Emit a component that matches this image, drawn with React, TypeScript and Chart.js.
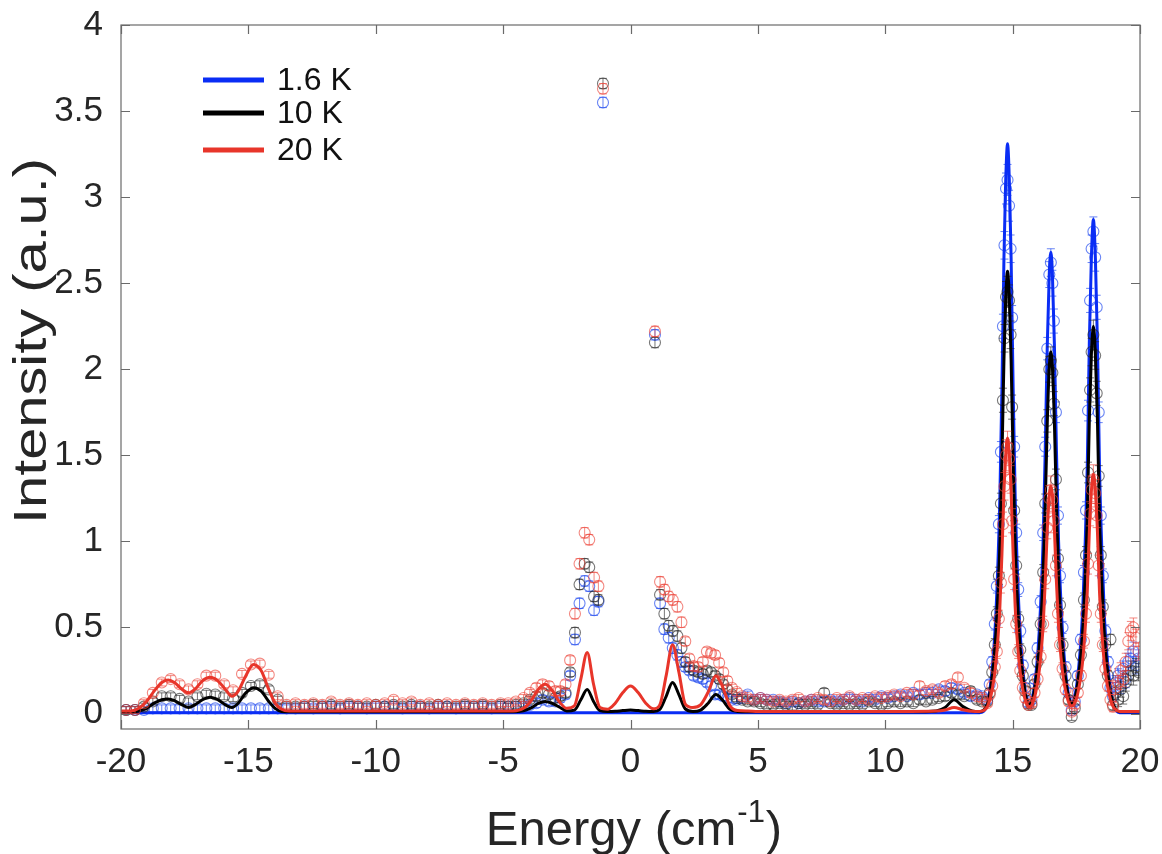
import { useEffect, useRef } from 'react';
import { Chart, registerables } from 'chart.js';
Chart.register(...registerables);

const FONT = '"Liberation Sans", Arial, Helvetica, sans-serif';
const xTicks = [-20, -15, -10, -5, 0, 5, 10, 15, 20];
const yTicks = [0, 0.5, 1, 1.5, 2, 2.5, 3, 3.5, 4];
const seriesLabels = ['1.6 K', '10 K', '20 K'];
const xTitle = 'Energy (cm';
const xTitleSup = '-1';
const yTitle = 'Intensity (a.u.)';

// measured points (shared energy grid)
const energy = [
  -19.8, -19.45, -19.1, -18.75, -18.4, -18.05, -17.7, -17.35, -17.0, -16.65, -16.3, -15.95, -15.6, -15.25, -14.9, -14.55, -14.2, -13.85, -13.5,
  -13.15, -12.8, -12.45, -12.1, -11.75, -11.4, -11.05, -10.7, -10.35, -10.0, -9.65, -9.3, -8.95, -8.6, -8.25, -7.9, -7.55, -7.2, -6.85, -6.5, -6.15, -5.8, -5.45, -5.1,
  -4.8, -4.5, -4.2, -3.95, -3.7, -3.45, -3.2, -2.95, -2.75, -2.55, -2.37, -2.18, -2.0, -1.8, -1.62, -1.43, -1.26, -1.08,
  0.96, 1.16, 1.33, 1.5, 1.66, 1.84, 2.0, 2.15, 2.31, 2.48, 2.66, 2.84, 3.0, 3.16, 3.32, 3.48, 3.64, 3.8, 3.98, 4.17, 4.38, 4.6, 4.85,
  5.1, 5.35, 5.6, 5.85, 6.1, 6.35, 6.6, 6.85, 7.1, 7.35, 7.6, 7.85, 8.1, 8.35, 8.6, 8.85, 9.1, 9.35, 9.6, 9.85, 10.1, 10.35, 10.6, 10.85, 11.1, 11.35, 11.6, 11.85, 12.1, 12.35, 12.6, 12.85, 13.1, 13.35, 13.6, 13.8,
  14.0, 14.1, 14.2, 14.3, 14.38, 14.46, 14.54, 14.62, 14.68, 14.74, 14.8, 14.86, 14.92, 14.98, 15.06, 15.14, 15.22, 15.3, 15.4, 15.5,
  15.62, 15.74, 15.86, 15.98, 16.1, 16.2, 16.28, 16.36, 16.44, 16.5, 16.56, 16.62, 16.7, 16.78, 16.86, 16.96, 17.08, 17.2, 17.32, 17.44,
  17.56, 17.68, 17.8, 17.88, 17.96, 18.04, 18.1, 18.17, 18.24, 18.3, 18.38, 18.46, 18.54, 18.64, 18.74, 18.84, 18.94, 19.04, 19.14, 19.24,
  19.34, 19.44, 19.54, 19.64, 19.74, 19.84, 19.94,
];

const i16 = [
  0.02, 0.02, 0.02, 0.03, 0.03, 0.03, 0.03, 0.03, 0.03, 0.03, 0.03, 0.03, 0.03, 0.03, 0.03, 0.03, 0.03, 0.03, 0.03,
  0.03, 0.04, 0.03, 0.04, 0.04, 0.03, 0.04, 0.04, 0.03, 0.04, 0.04, 0.04, 0.03, 0.04, 0.04, 0.03, 0.04, 0.04, 0.03, 0.04, 0.04, 0.04, 0.03, 0.04,
  0.04, 0.04, 0.04, 0.05, 0.06, 0.08, 0.07, 0.07, 0.09, 0.11, 0.22, 0.43, 0.64, 0.77, 0.74, 0.60, 0.65, 3.55,
  2.20, 0.64, 0.49, 0.44, 0.38, 0.34, 0.30, 0.27, 0.25, 0.22, 0.21, 0.20, 0.18, 0.16, 0.11, 0.11, 0.10, 0.09, 0.08, 0.08, 0.09, 0.11, 0.08,
  0.09, 0.08, 0.08, 0.07, 0.06, 0.07, 0.06, 0.07, 0.08, 0.07, 0.07, 0.08, 0.07, 0.08, 0.09, 0.08, 0.07, 0.09, 0.08, 0.10, 0.09, 0.10, 0.11, 0.10, 0.12, 0.11, 0.12, 0.12, 0.14, 0.13, 0.15, 0.14, 0.12, 0.10, 0.11, 0.10,
  0.08, 0.17, 0.30, 0.52, 0.74, 1.10, 1.52, 2.25, 2.72, 3.05, 3.10, 2.95, 2.70, 2.30, 1.55, 1.05, 0.72, 0.48, 0.28, 0.15,
  0.06, 0.08, 0.20, 0.38, 0.65, 1.05, 1.55, 2.12, 2.55, 2.62, 2.50, 2.28, 1.75, 1.15, 0.80, 0.50, 0.27, 0.12, 0.02, 0.07,
  0.22, 0.43, 0.82, 1.18, 1.76, 2.40, 2.70, 2.80, 2.65, 2.36, 1.75, 1.15, 0.80, 0.48, 0.30, 0.15, 0.10, 0.18, 0.22, 0.16,
  0.26, 0.20, 0.30, 0.32, 0.36, 0.28, 0.32,
];

const i10 = [
  0.02, 0.02, 0.04, 0.07, 0.10, 0.10, 0.085, 0.07, 0.10, 0.115, 0.11, 0.10, 0.09, 0.12, 0.16, 0.17, 0.14, 0.08, 0.04,
  0.04, 0.04, 0.05, 0.04, 0.05, 0.04, 0.05, 0.04, 0.04, 0.05, 0.04, 0.05, 0.04, 0.05, 0.04, 0.04, 0.05, 0.04, 0.04, 0.05, 0.04, 0.05, 0.04, 0.05,
  0.04, 0.05, 0.06, 0.08, 0.10, 0.12, 0.11, 0.09, 0.10, 0.12, 0.24, 0.47, 0.75, 0.87, 0.85, 0.68, 0.66, 3.66,
  2.155, 0.69, 0.58, 0.51, 0.48, 0.45, 0.38, 0.30, 0.27, 0.25, 0.24, 0.23, 0.25, 0.24, 0.22, 0.20, 0.17, 0.14, 0.11, 0.09, 0.08, 0.07, 0.07,
  0.06, 0.05, 0.05, 0.06, 0.05, 0.04, 0.06, 0.05, 0.06, 0.05, 0.12, 0.06, 0.05, 0.06, 0.05, 0.06, 0.05, 0.07, 0.06, 0.05, 0.06, 0.07, 0.06, 0.07, 0.06, 0.08, 0.07, 0.08, 0.09, 0.10, 0.12, 0.11, 0.10, 0.13, 0.08, 0.07,
  0.07, 0.12, 0.24, 0.40, 0.58, 0.80, 1.22, 1.82, 2.18, 2.42, 2.45, 2.40, 2.20, 1.78, 1.18, 0.86, 0.55, 0.37, 0.22, 0.13,
  0.05, 0.05, 0.17, 0.30, 0.52, 0.82, 1.22, 1.70, 2.00, 2.05, 1.98, 1.80, 1.36, 0.90, 0.63, 0.40, 0.22, 0.08, -0.02, 0.03,
  0.17, 0.34, 0.66, 0.92, 1.40, 1.88, 2.10, 2.20, 2.08, 1.86, 1.38, 0.92, 0.62, 0.40, 0.22, 0.43, 0.05, 0.12, 0.08, 0.14,
  0.10, 0.18, 0.22, 0.25, 0.22, 0.27, 0.24,
];

const i20 = [
  0.02, 0.02, 0.06, 0.12, 0.18, 0.20, 0.17, 0.14, 0.17, 0.22, 0.22, 0.17, 0.135, 0.23, 0.285, 0.29, 0.225, 0.10, 0.05,
  0.06, 0.05, 0.06, 0.05, 0.07, 0.05, 0.06, 0.05, 0.06, 0.05, 0.06, 0.08, 0.06, 0.07, 0.05, 0.06, 0.05, 0.06, 0.05, 0.06, 0.05, 0.06, 0.05, 0.06,
  0.06, 0.07, 0.09, 0.12, 0.15, 0.17, 0.16, 0.13, 0.13, 0.17, 0.31, 0.58, 0.87, 1.05, 1.01, 0.79, 0.74, 3.63,
  2.22, 0.765, 0.72, 0.68, 0.66, 0.62, 0.53, 0.42, 0.32, 0.275, 0.27, 0.30, 0.36, 0.35, 0.34, 0.295, 0.24, 0.19, 0.15, 0.125, 0.10, 0.09, 0.08,
  0.09, 0.08, 0.07, 0.08, 0.07, 0.08, 0.09, 0.07, 0.08, 0.09, 0.08, 0.07, 0.09, 0.08, 0.10, 0.08, 0.09, 0.08, 0.10, 0.09, 0.10, 0.11, 0.10, 0.12, 0.11, 0.16, 0.13, 0.14, 0.12, 0.16, 0.17, 0.21, 0.15, 0.12, 0.10, 0.09,
  0.06, 0.11, 0.16, 0.27, 0.36, 0.55, 0.76, 1.10, 1.32, 1.50, 1.55, 1.48, 1.36, 1.12, 0.78, 0.52, 0.36, 0.25, 0.15, 0.09,
  0.05, 0.06, 0.12, 0.20, 0.33, 0.52, 0.78, 1.08, 1.25, 1.30, 1.24, 1.12, 0.86, 0.58, 0.40, 0.26, 0.14, 0.07, 0.01, 0.05,
  0.12, 0.22, 0.42, 0.58, 0.87, 1.16, 1.30, 1.36, 1.28, 1.15, 0.86, 0.58, 0.40, 0.26, 0.16, 0.08, 0.04, 0.15, 0.18, 0.25,
  0.20, 0.30, 0.42, 0.48, 0.50, 0.44, 0.36,
];

const errBar = [
  0.02, 0.02, 0.02, 0.02, 0.02, 0.02, 0.02, 0.02, 0.02, 0.02, 0.02, 0.02, 0.02, 0.02, 0.02, 0.02, 0.02, 0.02, 0.02,
  0.02, 0.02, 0.02, 0.02, 0.02, 0.02, 0.02, 0.02, 0.02, 0.02, 0.02, 0.02, 0.02, 0.02, 0.02, 0.02, 0.02, 0.02, 0.02, 0.02, 0.02, 0.02, 0.02, 0.02,
  0.02, 0.02, 0.02, 0.02, 0.025, 0.025, 0.025, 0.025, 0.025, 0.025, 0.025, 0.03, 0.03, 0.03, 0.03, 0.03, 0.03, 0.03,
  0.03, 0.03, 0.03, 0.03, 0.03, 0.03, 0.03, 0.025, 0.025, 0.025, 0.025, 0.025, 0.025, 0.025, 0.025, 0.025, 0.025, 0.025, 0.02, 0.02, 0.02, 0.02, 0.02,
  0.02, 0.02, 0.02, 0.02, 0.02, 0.02, 0.02, 0.02, 0.02, 0.02, 0.025, 0.02, 0.02, 0.02, 0.02, 0.02, 0.02, 0.02, 0.02, 0.02, 0.02, 0.02, 0.02, 0.02, 0.02, 0.025, 0.02, 0.02, 0.02, 0.025, 0.025, 0.025, 0.02, 0.025, 0.02, 0.02,
  0.02, 0.025, 0.03, 0.035, 0.04, 0.05, 0.06, 0.07, 0.08, 0.09, 0.09, 0.09, 0.08, 0.07, 0.06, 0.05, 0.04, 0.035, 0.03, 0.025,
  0.02, 0.02, 0.025, 0.03, 0.035, 0.045, 0.055, 0.065, 0.075, 0.08, 0.075, 0.07, 0.06, 0.05, 0.04, 0.035, 0.03, 0.025, 0.02, 0.02,
  0.025, 0.03, 0.04, 0.05, 0.06, 0.07, 0.08, 0.085, 0.08, 0.07, 0.06, 0.05, 0.04, 0.035, 0.03, 0.03, 0.03, 0.04, 0.04, 0.045,
  0.045, 0.05, 0.05, 0.055, 0.055, 0.05, 0.05,
];

// fitted curves (shared energy grid)
const fitEnergy = [
  -20, -19.6, -19.3, -19.0, -18.7, -18.4, -18.15, -17.9, -17.6, -17.35, -17.1, -16.8, -16.5, -16.2, -15.9, -15.65, -15.4, -15.1, -14.8, -14.5, -14.2, -13.95, -13.7, -13.4, -13.0, -8.0,
  -4.6, -4.2, -3.9, -3.6, -3.35, -3.1, -2.8, -2.5, -2.2, -1.95, -1.7, -1.45, -1.2, -0.9, -0.6, -0.3, 0, 0.3, 0.6, 0.9, 1.15, 1.4, 1.65, 1.9, 2.15, 2.45, 2.75, 3.05, 3.35, 3.6, 3.9, 4.2, 4.6,
  5.0, 8.0, 11.0, 12.0, 12.35, 12.7, 13.05, 13.4, 13.7,
  14.0, 14.1, 14.2, 14.3, 14.4, 14.5, 14.58, 14.66, 14.72, 14.8, 14.88, 14.94, 15.02, 15.1, 15.2, 15.3, 15.4, 15.5, 15.6, 15.7,
  15.8, 15.9, 16.0, 16.1, 16.2, 16.28, 16.36, 16.44, 16.5, 16.56, 16.64, 16.72, 16.8, 16.9, 17.0, 17.1, 17.2, 17.33, 17.45, 17.55,
  17.65, 17.75, 17.85, 17.93, 18.01, 18.09, 18.17, 18.25, 18.33, 18.41, 18.5, 18.6, 18.7, 18.8, 18.9, 19.0, 19.2, 19.5, 20.0,
];

const fit16 = [
  0.005, 0.005, 0.005, 0.005, 0.005, 0.005, 0.005, 0.005, 0.005, 0.005, 0.005, 0.005, 0.005, 0.005, 0.005, 0.005, 0.005, 0.005, 0.005, 0.005, 0.005, 0.005, 0.005, 0.005, 0.005, 0.005,
  0.005, 0.005, 0.005, 0.005, 0.005, 0.005, 0.005, 0.005, 0.005, 0.005, 0.005, 0.005, 0.005, 0.005, 0.005, 0.005, 0.005, 0.005, 0.005, 0.005, 0.005, 0.005, 0.005, 0.005, 0.005, 0.005, 0.005, 0.005, 0.005, 0.005, 0.005, 0.005, 0.005,
  0.005, 0.005, 0.005, 0.005, 0.005, 0.005, 0.005, 0.005, 0.005,
  0.05, 0.13, 0.26, 0.46, 0.78, 1.26, 1.89, 2.65, 3.05, 3.31, 3.05, 2.65, 1.89, 1.26, 0.78, 0.46, 0.26, 0.13, 0.063, 0.057,
  0.107, 0.21, 0.375, 0.635, 1.02, 1.53, 2.14, 2.56, 2.68, 2.56, 2.14, 1.53, 1.02, 0.635, 0.375, 0.21, 0.107, 0.064, 0.105, 0.207,
  0.367, 0.60, 1.0, 1.435, 2.15, 2.64, 2.87, 2.64, 2.15, 1.435, 0.96, 0.574, 0.344, 0.195, 0.086, 0.034, 0.005, 0.005, 0.005,
];

const fit10 = [
  0.01, 0.01, 0.015, 0.03, 0.06, 0.08, 0.085, 0.075, 0.05, 0.035, 0.05, 0.08, 0.095, 0.08, 0.05, 0.035, 0.06, 0.12, 0.15, 0.13, 0.07, 0.03, 0.012, 0.01, 0.01, 0.01,
  0.01, 0.016, 0.033, 0.06, 0.07, 0.06, 0.038, 0.015, 0.02, 0.08, 0.14, 0.07, 0.017, 0.012, 0.013, 0.017, 0.02, 0.017, 0.013, 0.012, 0.024, 0.10, 0.18, 0.11, 0.027, 0.012, 0.02, 0.06, 0.11, 0.08, 0.025, 0.012, 0.01,
  0.01, 0.01, 0.01, 0.015, 0.035, 0.08, 0.04, 0.015, 0.01,
  0.05, 0.11, 0.215, 0.37, 0.62, 0.98, 1.47, 2.06, 2.37, 2.57, 2.37, 2.06, 1.47, 0.98, 0.62, 0.37, 0.215, 0.11, 0.06, 0.055,
  0.094, 0.178, 0.304, 0.508, 0.808, 1.207, 1.69, 2.015, 2.10, 2.015, 1.69, 1.207, 0.808, 0.508, 0.304, 0.178, 0.094, 0.06, 0.093, 0.172,
  0.298, 0.48, 0.80, 1.135, 1.70, 2.08, 2.25, 2.08, 1.70, 1.135, 0.764, 0.46, 0.28, 0.163, 0.078, 0.037, 0.01, 0.01, 0.01,
];

const fit20 = [
  0.015, 0.015, 0.03, 0.07, 0.13, 0.18, 0.195, 0.18, 0.14, 0.12, 0.14, 0.19, 0.21, 0.19, 0.14, 0.10, 0.13, 0.22, 0.285, 0.25, 0.14, 0.06, 0.025, 0.015, 0.015, 0.015,
  0.015, 0.03, 0.074, 0.144, 0.17, 0.139, 0.07, 0.03, 0.045, 0.20, 0.355, 0.17, 0.035, 0.025, 0.06, 0.122, 0.16, 0.122, 0.06, 0.027, 0.05, 0.22, 0.40, 0.24, 0.055, 0.035, 0.05, 0.125, 0.22, 0.16, 0.046, 0.017, 0.015,
  0.012, 0.012, 0.012, 0.014, 0.02, 0.035, 0.022, 0.013, 0.012,
  0.036, 0.076, 0.14, 0.236, 0.39, 0.62, 0.924, 1.29, 1.484, 1.60, 1.484, 1.29, 0.924, 0.62, 0.39, 0.236, 0.14, 0.076, 0.043, 0.04,
  0.065, 0.118, 0.197, 0.325, 0.514, 0.764, 1.068, 1.272, 1.32, 1.272, 1.068, 0.764, 0.514, 0.325, 0.197, 0.118, 0.065, 0.043, 0.064, 0.112,
  0.19, 0.304, 0.498, 0.707, 1.054, 1.29, 1.39, 1.29, 1.054, 0.707, 0.478, 0.29, 0.179, 0.107, 0.054, 0.029, 0.012, 0.012, 0.012,
];

const lineColors = ['#0a2df5', '#000000', '#e8352a'];
const pointColors = ['rgba(40,80,240,0.7)', 'rgba(35,35,35,0.62)', 'rgba(236,64,54,0.62)'];

const toPts = (xs: number[], ys: number[]) => xs.map((x, i) => ({ x, y: ys[i] }));

const errorBarPlugin = {
  id: 'errorBars',
  afterDatasetDraw(chart: any, args: any) {
    const ds = chart.data.datasets[args.index];
    if (!ds.isData) return;
    const { ctx, chartArea: a } = chart;
    const ys = chart.scales.y;
    ctx.save();
    ctx.beginPath();
    ctx.rect(a.left, a.top, a.right - a.left, a.bottom - a.top);
    ctx.clip();
    ctx.strokeStyle = ds.pointBorderColor;
    ctx.lineWidth = 1;
    ctx.beginPath();
    args.meta.data.forEach((pt: any, i: number) => {
      const v = ds.data[i].y;
      const e = errBar[i] ?? 0.02;
      const t = ys.getPixelForValue(v + e);
      const b = ys.getPixelForValue(v - e);
      ctx.moveTo(pt.x, t); ctx.lineTo(pt.x, b);
      ctx.moveTo(pt.x - 4, t); ctx.lineTo(pt.x + 4, t);
      ctx.moveTo(pt.x - 4, b); ctx.lineTo(pt.x + 4, b);
    });
    ctx.stroke();
    ctx.restore();
  },
};

const framePlugin = {
  id: 'frame',
  afterDraw(chart: any) {
    const { ctx, chartArea: a, scales } = chart;
    const xs = scales.x, ys = scales.y;
    ctx.save();
    ctx.strokeStyle = '#6a6a6a';
    ctx.lineWidth = 1.2;
    ctx.strokeRect(a.left, a.top, a.right - a.left, a.bottom - a.top);
    const L = 9;
    ctx.beginPath();
    xTicks.forEach((v) => {
      const px = Math.round(xs.getPixelForValue(v)) + 0.5;
      ctx.moveTo(px, a.bottom); ctx.lineTo(px, a.bottom - L);
      ctx.moveTo(px, a.top); ctx.lineTo(px, a.top + L);
    });
    yTicks.forEach((v) => {
      const py = Math.round(ys.getPixelForValue(v)) + 0.5;
      ctx.moveTo(a.left, py); ctx.lineTo(a.left + L, py);
      ctx.moveTo(a.right, py); ctx.lineTo(a.right - L, py);
    });
    ctx.stroke();

    // axis titles
    ctx.fillStyle = '#262626';
    ctx.textBaseline = 'alphabetic';
    ctx.font = `49px ${FONT}`;
    const w1 = ctx.measureText(xTitle).width;
    ctx.font = `31px ${FONT}`;
    const w2 = ctx.measureText(xTitleSup).width;
    ctx.font = `49px ${FONT}`;
    const w3 = ctx.measureText(')').width;
    const cx = 633;
    const x0 = cx - (w1 + w2 + w3) / 2;
    const base = 845;
    ctx.textAlign = 'left';
    ctx.fillText(xTitle, x0, base);
    ctx.font = `31px ${FONT}`;
    ctx.fillText(xTitleSup, x0 + w1 + 1, base - 23);
    ctx.font = `49px ${FONT}`;
    ctx.fillText(')', x0 + w1 + w2 + 2, base);

    ctx.save();
    ctx.translate(46, 341);
    ctx.rotate(-Math.PI / 2);
    ctx.font = `47px ${FONT}`;
    const wy = ctx.measureText(yTitle).width;
    ctx.scale(366 / wy, 1);
    ctx.textAlign = 'center';
    ctx.fillText(yTitle, 0, 0);
    ctx.restore();

    // legend
    const rows = [80, 113, 150];
    ctx.font = `32px ${FONT}`;
    ctx.textBaseline = 'middle';
    ctx.textAlign = 'left';
    seriesLabels.forEach((lab, k) => {
      ctx.strokeStyle = lineColors[k];
      ctx.lineWidth = 5;
      ctx.beginPath();
      ctx.moveTo(203, rows[k]);
      ctx.lineTo(264, rows[k]);
      ctx.stroke();
      ctx.fillStyle = '#111111';
      ctx.fillText(lab, 277, rows[k] + 1);
    });
    ctx.restore();
  },
};

export default function App() {
  const ref = useRef<HTMLCanvasElement | null>(null);
  useEffect(() => {
    document.body.style.margin = '0';
    const canvas = ref.current;
    if (!canvas) return;
    const series = [
      { fit: fit16, pts: i16 },
      { fit: fit10, pts: i10 },
      { fit: fit20, pts: i20 },
    ];
    const datasets: any[] = [];
    series.forEach((s, k) => {
      datasets.push({
        type: 'scatter',
        label: seriesLabels[k] + ' data',
        isData: true,
        data: toPts(energy, s.pts),
        pointRadius: 5.5,
        pointBorderWidth: 1.1,
        pointBorderColor: pointColors[k],
        pointBackgroundColor: 'rgba(0,0,0,0)',
        pointHoverRadius: 5.5,
        order: 6 - 2 * k,
      });
      datasets.push({
        type: 'line',
        label: seriesLabels[k],
        data: toPts(fitEnergy, s.fit),
        borderColor: lineColors[k],
        borderWidth: 3,
        pointRadius: 0,
        showLine: true,
        fill: false,
        cubicInterpolationMode: 'monotone',
        order: 5 - 2 * k,
      });
    });
    const chart = new Chart(canvas, {
      type: 'scatter',
      data: { datasets },
      options: {
        animation: false,
        responsive: false,
        devicePixelRatio: 1,
        layout: { padding: { left: 0, right: 22, top: 25, bottom: 0 } },
        plugins: { legend: { display: false }, tooltip: { enabled: false } },
        scales: {
          x: {
            type: 'linear',
            min: -20,
            max: 20,
            afterBuildTicks: (s: any) => { s.ticks = xTicks.map((v) => ({ value: v })); },
            afterFit: (s: any) => { s.height = 125; s.paddingLeft = 0; s.paddingRight = 0; },
            grid: { display: false, drawTicks: false },
            border: { display: false },
            ticks: {
              autoSkip: false,
              maxRotation: 0,
              padding: 12,
              color: '#262626',
              font: { family: FONT, size: 35 },
              callback: (v: any) => String(v),
            },
          },
          y: {
            type: 'linear',
            min: -0.09,
            max: 4,
            afterBuildTicks: (s: any) => { s.ticks = yTicks.map((v) => ({ value: v })); },
            afterFit: (s: any) => { s.width = 121; s.paddingTop = 0; s.paddingBottom = 0; },
            grid: { display: false, drawTicks: false },
            border: { display: false },
            ticks: {
              autoSkip: false,
              padding: 18,
              color: '#262626',
              font: { family: FONT, size: 35 },
              callback: (v: any) => String(v),
            },
          },
        },
      },
      plugins: [errorBarPlugin, framePlugin],
    } as any);
    return () => chart.destroy();
  }, []);
  return <canvas ref={ref} width={1162} height={854} style={{ display: 'block' }} />;
}
